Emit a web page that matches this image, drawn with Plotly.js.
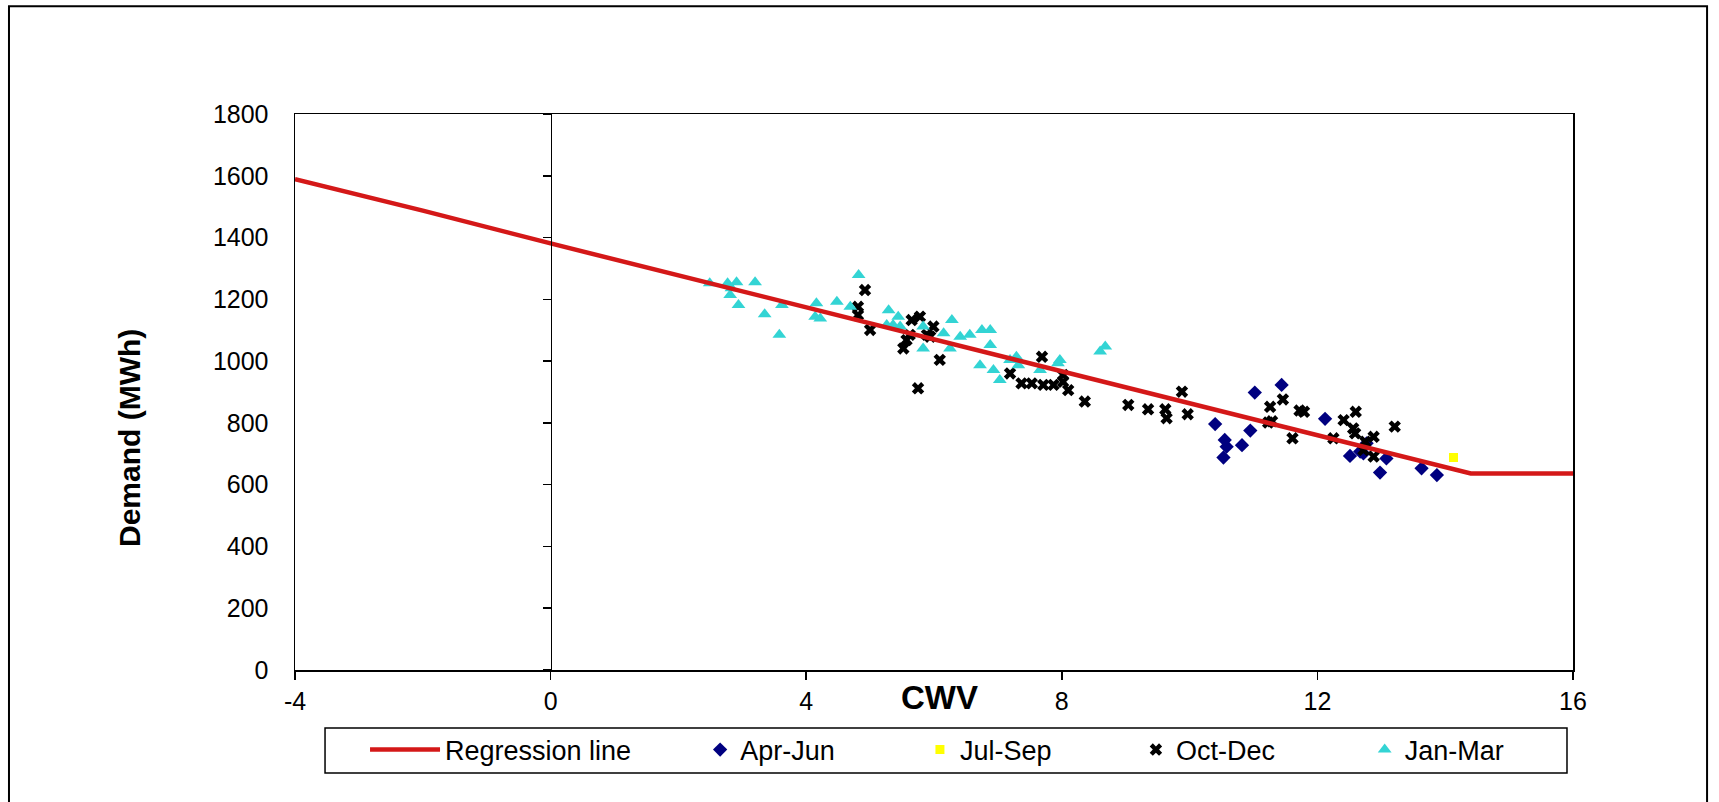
<!DOCTYPE html>
<html>
<head>
<meta charset="utf-8">
<script src="https://cdn.plot.ly/plotly-3.0.1.min.js"></script>
<style>html,body{margin:0;padding:0;background:#fff;}#chart{width:1719px;height:802px;}</style>
</head>
<body>
<div id="chart"></div>
<script>
// Regression line
var regX = [-4, -2, 0, 14.4, 16];
var regY = [1589, 1487, 1381, 636, 636];

// Apr-Jun
var aprX = [10.40,10.55,10.58,10.53,10.82,10.95,11.02,11.44,12.12,12.51,12.67,12.72,12.77,13.08,12.98,13.63,13.87];
var aprY = [796,745,723,688,728,775,898,923,813,693,707,701,734,685,639,653,631];

// Jul-Sep
var julX = [14.13];
var julY = [688];

// Oct-Dec
var octX = [4.92,4.81,4.81,5.00,5.65,5.78,5.99,5.62,5.57,5.52,5.89,5.94,6.09,5.75,7.19,7.37,7.53,7.71,7.87,7.69,8.02,8.02,8.10,8.36,9.04,9.35,9.62,9.64,9.88,9.97,11.26,11.46,11.23,11.29,11.72,11.79,11.61,12.41,12.60,12.56,12.59,12.25,12.88,12.75,12.88,13.21,12.72];
var octY = [1230,1176,1149,1101,1133,1144,1112,1085,1068,1041,1085,1079,1004,912,960,928,928,923,923,1014,955,933,906,869,858,844,844,815,901,828,852,876,801,805,840,836,750,809,836,782,766,750,755,739,691,788,712];

// Jan-Mar
var janX = [2.49,2.77,2.91,2.83,2.81,2.94,3.20,3.35,3.62,3.58,4.16,4.14,4.22,4.48,4.82,4.69,5.29,5.44,5.36,5.26,5.47,5.83,5.83,6.28,6.15,6.25,6.41,6.56,6.75,6.88,6.88,6.72,6.93,7.03,7.19,7.29,7.32,7.66,7.97,7.94,8.60,8.68];
var janY = [1252,1252,1255,1236,1214,1182,1255,1152,1182,1085,1187,1144,1138,1192,1279,1176,1165,1144,1117,1117,1112,1112,1041,1133,1090,1041,1079,1085,1101,1101,1052,987,971,939,1004,1014,987,971,1004,993,1031,1047];

// Labels
var seriesNames = ['Regression line', 'Apr-Jun', 'Jul-Sep', 'Oct-Dec', 'Jan-Mar'];
var xTickVals = [-4, 0, 4, 8, 12, 16];
var xTickText = ['-4', '0', '4', '8', '12', '16'];
var xTitle = 'CWV';
var yTitle = 'Demand (MWh)';

var FONT = 'Liberation Sans, Arial, sans-serif';

var traces = [
  {x: regX, y: regY, name: seriesNames[0], mode: 'lines', type: 'scatter', yaxis: 'y2',
   line: {color: '#D41818', width: 4.5}, legend: 'legend'},
  {x: aprX, y: aprY, name: seriesNames[1], mode: 'markers', type: 'scatter',
   marker: {symbol: 'diamond', size: 11, color: '#000080'}, legend: 'legend2'},
  {x: julX, y: julY, name: seriesNames[2], mode: 'markers', type: 'scatter',
   marker: {symbol: 'square', size: 9, color: '#FFFF00'}, legend: 'legend3'},
  {x: octX, y: octY, name: seriesNames[3], mode: 'markers', type: 'scatter',
   marker: {symbol: 'x', size: 11, color: '#000000'}, legend: 'legend4'},
  {x: janX, y: janY, name: seriesNames[4], mode: 'markers', type: 'scatter',
   marker: {symbol: 'triangle-up', size: 12, color: '#33D4D4'}, legend: 'legend5'}
];

function leg(x, extra) {
  var o = {orientation: 'h', x: x, xanchor: 'left', y: -0.1439, yanchor: 'middle',
    bgcolor: 'rgba(0,0,0,0)', borderwidth: 0,
    font: {family: FONT, size: 27, color: '#000'}};
  if (extra) for (var k in extra) o[k] = extra[k];
  return o;
}

var layout = {
  width: 1719, height: 802,
  paper_bgcolor: '#fff', plot_bgcolor: '#fff',
  margin: {l: 295, r: 146, t: 114, b: 132},
  showlegend: true,
  font: {family: FONT, color: '#000'},
  xaxis: {
    range: [-4, 16], tickmode: 'array', tickvals: xTickVals, ticktext: xTickText,
    showgrid: false, zeroline: false,
    showline: true, mirror: true, linecolor: '#000', linewidth: 1.5,
    ticks: 'outside', ticklen: 8, tickwidth: 1.5, tickcolor: '#000',
    tickfont: {family: FONT, size: 25, color: '#000'}
  },
  yaxis: {
    range: [0, 1800], dtick: 200,
    showgrid: false, zeroline: false,
    showline: true, mirror: true, linecolor: '#000', linewidth: 1.5,
    ticks: 'outside', ticklen: 20, tickcolor: 'rgba(0,0,0,0)',
    tickfont: {family: FONT, size: 25, color: '#000'}
  },
  yaxis2: {
    overlaying: 'y', anchor: 'free', position: 0.2, side: 'left',
    range: [0, 1800], dtick: 200,
    showgrid: false, zeroline: false, showticklabels: false,
    showline: true, linecolor: '#000', linewidth: 1.5,
    ticks: 'outside', ticklen: 8, tickwidth: 1.5, tickcolor: '#000'
  },
  legend: leg(0.0548, {itemwidth: 70}),
  legend2: leg(0.317),
  legend3: leg(0.489),
  legend4: leg(0.658),
  legend5: leg(0.837),
  annotations: [
    {text: '<b>' + xTitle + '</b>', xref: 'paper', yref: 'paper', x: 0.504, y: -0.0486,
     xanchor: 'center', yanchor: 'middle', showarrow: false,
     font: {family: FONT, size: 33, color: '#000'}},
    {text: '<b>' + yTitle + '</b>', xref: 'paper', yref: 'paper', x: -0.130, y: 0.417,
     xanchor: 'center', yanchor: 'middle', showarrow: false, textangle: -90,
     font: {family: FONT, size: 30, color: '#000'}}
  ],
  shapes: [
    {type: 'rect', xref: 'paper', yref: 'paper', x0: 0.0235, x1: 0.9953, y0: -0.1853, y1: -0.1043,
     line: {color: '#000', width: 1.5}, fillcolor: 'rgba(0,0,0,0)'},
    {type: 'rect', xref: 'paper', yref: 'paper', x0: -0.2238, x1: 1.1049, y0: -0.27, y1: 1.194,
     line: {color: '#000', width: 2}, fillcolor: 'rgba(0,0,0,0)'}
  ]
};

Plotly.newPlot('chart', traces, layout, {displayModeBar: false, staticPlot: true});
</script>
</body>
</html>
